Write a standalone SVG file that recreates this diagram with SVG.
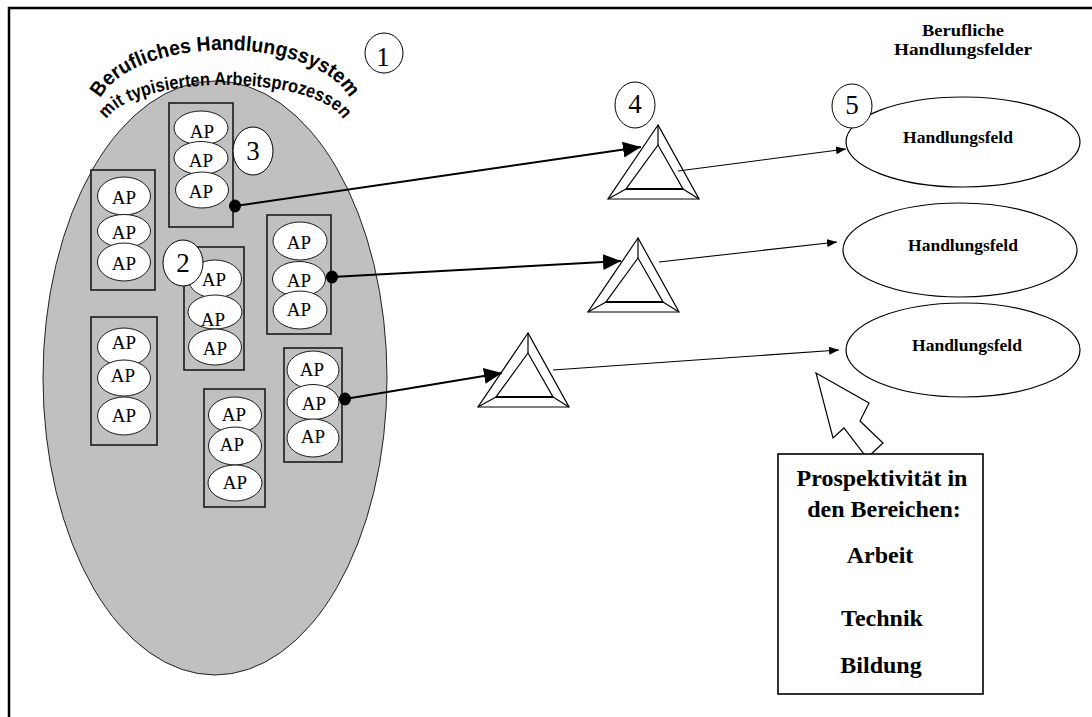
<svg xmlns="http://www.w3.org/2000/svg" width="1092" height="717" viewBox="0 0 1092 717">
  <style>
    .frame { fill: none; stroke: #000; stroke-width: 2.5; }
    .system { fill: #c0c0c0; stroke: #222; stroke-width: 1; }
    .box { fill: #c0c0c0; stroke: #1a1a1a; stroke-width: 1.6; }
    .ap { fill: #fff; stroke: #1a1a1a; stroke-width: 1; }
    .ap-t { font-family: "Liberation Serif", "Times New Roman", serif; font-size: 19px; text-anchor: middle; fill: #000; }
    .num { fill: #fff; stroke: #000; stroke-width: 1; }
    .num-t { font-family: "Liberation Serif", "Times New Roman", serif; font-size: 27px; text-anchor: middle; fill: #000; }
    .arc-t { font-family: "Liberation Sans", Arial, sans-serif; font-weight: bold; fill: #000; }
    .tri { fill: #fff; stroke: #000; stroke-width: 1.2; stroke-linejoin: miter; }
    .field { fill: #fff; stroke: #000; stroke-width: 1.2; }
    .bold-t { font-family: "Liberation Serif", "Times New Roman", serif; font-weight: bold; text-anchor: middle; fill: #000; }
    .dot { fill: #000; }
    .thick { fill: none; stroke: #000; stroke-width: 2; }
    .thin { fill: none; stroke: #000; stroke-width: 1.1; }
    .pointer { fill: #fff; stroke: #000; stroke-width: 1.2; stroke-linejoin: miter; }
    .panel { fill: #fff; stroke: #000; stroke-width: 1.6; }
  </style>
  <defs>
    <marker id="head-big" markerUnits="userSpaceOnUse" markerWidth="18" markerHeight="16" refX="18" refY="8" orient="auto">
      <path d="M0,0 L18,8 L0,16 z" fill="#000"/>
    </marker>
    <marker id="head-small" markerUnits="userSpaceOnUse" markerWidth="10" markerHeight="8" refX="10" refY="4" orient="auto">
      <path d="M0,0 L10,4 L0,8 z" fill="#000"/>
    </marker>
    <!-- baselines of the arched title -->
    <path id="arc-1" d="M 97 113 A 128 63 0 0 1 353 113"/>
    <path id="arc-2" d="M 105 127 A 120 42 0 0 1 345 127"/>
    <!-- bevelled triangle, apex at the origin -->
    <g id="bevel-tri">
      <polygon class="tri" points="0,0 -50,74 41,74"/>
      <polygon class="tri" points="0,20 -32,64 25,64"/>
      <line class="tri" x1="0" y1="0" x2="0" y2="20"/>
      <line class="tri" x1="-50" y1="74" x2="-32" y2="64"/>
      <line class="tri" x1="41" y1="74" x2="25" y2="64"/>
      <line x1="-32" y1="64" x2="25" y2="64" stroke="#000" stroke-width="2.2"/>
    </g>
  </defs>

  <!-- outer frame -->
  <path class="frame" d="M 9 717 L 9 8 L 1092 8"/>

  <!-- work system with typical work processes -->
  <g id="system">
    <ellipse class="system" cx="215" cy="378" rx="172" ry="297"/>
    <text class="arc-t" font-size="20.5"><textPath href="#arc-1" startOffset="50%" text-anchor="middle" textLength="278" lengthAdjust="spacingAndGlyphs">Berufliches Handlungssystem</textPath></text>
    <text class="arc-t" font-size="18.5"><textPath href="#arc-2" startOffset="50%" text-anchor="middle" textLength="254" lengthAdjust="spacingAndGlyphs">mit typisierten Arbeitsprozessen</textPath></text>
  </g>

  <g id="marker-1">
    <ellipse class="num" cx="384" cy="53" rx="19" ry="20"/>
    <text class="num-t" x="383" y="66">1</text>
  </g>

  <!-- process groups -->
  <g id="group-a">
    <rect class="box" x="169" y="103" width="64" height="124"/>
    <ellipse class="ap" cx="201" cy="128" rx="27" ry="17"/>
    <ellipse class="ap" cx="201" cy="158" rx="27" ry="16.5"/>
    <ellipse class="ap" cx="202" cy="190" rx="26.5" ry="18"/>
    <text class="ap-t" x="202" y="138">AP</text>
    <text class="ap-t" x="201" y="167">AP</text>
    <text class="ap-t" x="201" y="198">AP</text>
    <ellipse class="dot" cx="235" cy="206" rx="6" ry="6.5"/>
  </g>

  <g id="marker-3">
    <ellipse class="num" cx="253" cy="151" rx="20" ry="24"/>
    <text class="num-t" x="253" y="160">3</text>
  </g>

  <g id="group-b">
    <rect class="box" x="91" y="170" width="64" height="120"/>
    <ellipse class="ap" cx="124" cy="196" rx="26.5" ry="19"/>
    <ellipse class="ap" cx="124" cy="231" rx="26.5" ry="16.5"/>
    <ellipse class="ap" cx="124" cy="262" rx="26.5" ry="19"/>
    <text class="ap-t" x="124" y="204">AP</text>
    <text class="ap-t" x="124" y="239">AP</text>
    <text class="ap-t" x="124" y="270">AP</text>
  </g>

  <g id="group-c">
    <rect class="box" x="184" y="247" width="60" height="123"/>
    <ellipse class="ap" cx="215" cy="279" rx="26.5" ry="19"/>
    <ellipse class="ap" cx="215" cy="312" rx="27" ry="17"/>
    <ellipse class="ap" cx="215" cy="347" rx="26.5" ry="18"/>
    <text class="ap-t" x="214" y="286">AP</text>
    <text class="ap-t" x="213" y="326">AP</text>
    <text class="ap-t" x="215" y="355">AP</text>
  </g>

  <g id="marker-2">
    <ellipse class="num" cx="183" cy="263" rx="20" ry="23"/>
    <text class="num-t" x="183" y="272">2</text>
  </g>

  <g id="group-d">
    <rect class="box" x="267" y="215" width="64" height="119"/>
    <ellipse class="ap" cx="300" cy="241" rx="27" ry="19"/>
    <ellipse class="ap" cx="299" cy="279" rx="26.5" ry="17.5"/>
    <ellipse class="ap" cx="300" cy="310" rx="27" ry="19"/>
    <text class="ap-t" x="299" y="249">AP</text>
    <text class="ap-t" x="299" y="287">AP</text>
    <text class="ap-t" x="299" y="316">AP</text>
    <ellipse class="dot" cx="332" cy="277" rx="6" ry="6.5"/>
  </g>

  <g id="group-e">
    <rect class="box" x="91" y="317" width="66" height="128"/>
    <ellipse class="ap" cx="124" cy="347" rx="26.5" ry="19"/>
    <ellipse class="ap" cx="124" cy="378" rx="26.5" ry="18"/>
    <ellipse class="ap" cx="124" cy="416" rx="26.5" ry="19"/>
    <text class="ap-t" x="124" y="349">AP</text>
    <text class="ap-t" x="123" y="382">AP</text>
    <text class="ap-t" x="124" y="422">AP</text>
  </g>

  <g id="group-f">
    <rect class="box" x="204" y="389" width="61" height="118"/>
    <ellipse class="ap" cx="235" cy="415" rx="26.5" ry="18"/>
    <ellipse class="ap" cx="235" cy="446" rx="26.5" ry="19"/>
    <ellipse class="ap" cx="235" cy="483" rx="27" ry="18"/>
    <text class="ap-t" x="234" y="421">AP</text>
    <text class="ap-t" x="232" y="451">AP</text>
    <text class="ap-t" x="235" y="489">AP</text>
  </g>

  <g id="group-g">
    <rect class="box" x="284" y="348" width="58" height="114"/>
    <ellipse class="ap" cx="313" cy="370" rx="26" ry="19"/>
    <ellipse class="ap" cx="313" cy="402" rx="26" ry="17.5"/>
    <ellipse class="ap" cx="313" cy="438" rx="26" ry="19"/>
    <text class="ap-t" x="312" y="376">AP</text>
    <text class="ap-t" x="314" y="410">AP</text>
    <text class="ap-t" x="313" y="443">AP</text>
    <ellipse class="dot" cx="345" cy="399" rx="6" ry="6.5"/>
  </g>

  <!-- bevelled triangles -->
  <g id="tri-1"><use href="#bevel-tri" x="658" y="125"/></g>
  <g id="tri-2"><use href="#bevel-tri" x="638" y="238"/></g>
  <g id="tri-3"><use href="#bevel-tri" x="528" y="333"/></g>

  <g id="marker-4">
    <ellipse class="num" cx="635" cy="105" rx="20" ry="23"/>
    <text class="num-t" x="635" y="113">4</text>
  </g>

  <!-- fields of action -->
  <g id="fields-title">
    <text class="bold-t" x="963" y="35.5" font-size="17" textLength="82" lengthAdjust="spacingAndGlyphs">Berufliche</text>
    <text class="bold-t" x="963" y="54.5" font-size="17" textLength="138" lengthAdjust="spacingAndGlyphs">Handlungsfelder</text>
  </g>

  <g id="field-1">
    <ellipse class="field" cx="963" cy="142" rx="117" ry="45"/>
    <text class="bold-t" x="958" y="143" font-size="17.5">Handlungsfeld</text>
  </g>

  <g id="marker-5">
    <ellipse class="num" cx="852" cy="106" rx="20" ry="22"/>
    <text class="num-t" x="852" y="114">5</text>
  </g>

  <g id="field-2">
    <ellipse class="field" cx="960" cy="250" rx="117" ry="47"/>
    <text class="bold-t" x="963" y="251" font-size="17.5">Handlungsfeld</text>
  </g>

  <g id="field-3">
    <ellipse class="field" cx="963" cy="350" rx="117" ry="47"/>
    <text class="bold-t" x="967" y="351" font-size="17.5">Handlungsfeld</text>
  </g>

  <!-- prospectivity panel with its pointer -->
  <g id="prospect">
    <polygon class="pointer" points="816,373 869,403 860,421 883,443 867,458 844,428 833,438"/>
    <rect class="panel" x="778" y="454" width="205" height="240"/>
    <text class="bold-t" x="882" y="486" font-size="24">Prospektivität in</text>
    <text class="bold-t" x="884" y="517" font-size="24">den Bereichen:</text>
    <text class="bold-t" x="880" y="563" font-size="24">Arbeit</text>
    <text class="bold-t" x="882" y="626" font-size="24">Technik</text>
    <text class="bold-t" x="881" y="673" font-size="24">Bildung</text>
  </g>

  <!-- connectors -->
  <g id="connectors">
    <line class="thick" x1="235" y1="206" x2="641" y2="147" marker-end="url(#head-big)"/>
    <line class="thick" x1="332" y1="277" x2="621" y2="261" marker-end="url(#head-big)"/>
    <line class="thick" x1="345" y1="399" x2="502" y2="373" marker-end="url(#head-big)"/>
    <line class="thin" x1="678" y1="171" x2="846" y2="149" marker-end="url(#head-small)"/>
    <line class="thin" x1="659" y1="262" x2="837" y2="242" marker-end="url(#head-small)"/>
    <line class="thin" x1="553" y1="370" x2="839" y2="350" marker-end="url(#head-small)"/>
  </g>
</svg>
